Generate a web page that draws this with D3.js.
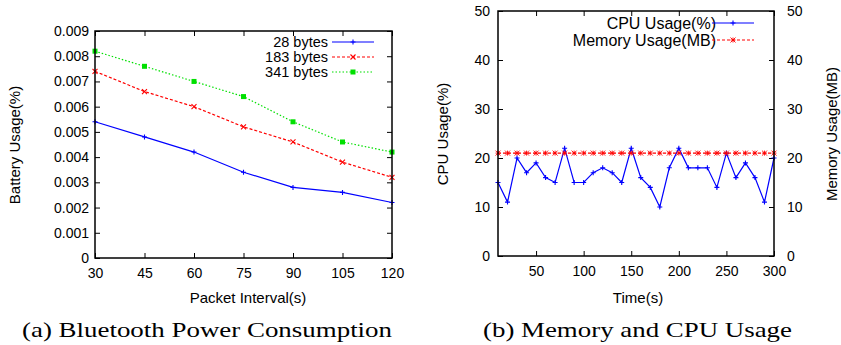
<!DOCTYPE html>
<html>
<head>
<meta charset="utf-8">
<script src="https://cdn.jsdelivr.net/npm/d3@7"></script>
<style>
  body { margin: 0; background: #fff; }
  svg text { font-family: "Liberation Sans", Arial, sans-serif; fill: #000; }
  .caption { font-family: "Liberation Serif", "DejaVu Serif", serif; }
</style>
</head>
<body>
<div id="chart"></div>
<script>
// ---- data ----
const intervals = [30, 45, 60, 75, 90, 105, 120];
const bytes28 = [0.0054, 0.0048, 0.0042, 0.0034, 0.0028, 0.0026, 0.0022];
const bytes183 = [0.0074, 0.0066, 0.0060, 0.0052, 0.0046, 0.0038, 0.0032];
const bytes341 = [0.0082, 0.0076, 0.0070, 0.0064, 0.0054, 0.0046, 0.0042];
const batteryTicks = [0, 0.001, 0.002, 0.003, 0.004, 0.005, 0.006, 0.007, 0.008, 0.009];

const times = [10, 20, 30, 40, 50, 60, 70, 80, 90, 100, 110, 120, 130, 140, 150,
               160, 170, 180, 190, 200, 210, 220, 230, 240, 250, 260, 270, 280, 290, 300];
const cpu = [15, 11, 20, 17, 19, 16, 15, 22, 15, 15, 17, 18, 17, 15, 22,
             16, 14, 10, 18, 22, 18, 18, 18, 14, 21, 16, 19, 16, 11, 20];
const memory = [21, 21, 21, 21, 21, 21, 21, 21, 21, 21, 21, 21, 21, 21, 21,
                21, 21, 21, 21, 21, 21, 21, 21, 21, 21, 21, 21, 21, 21, 21];
const timeTicks = [50, 100, 150, 200, 250, 300];
const usageTicks = [0, 10, 20, 30, 40, 50];

const width = 841, height = 345;
const blue = "#0000ff", red = "#ff0000", green = "#00e000";

const svg = d3.select("#chart").append("svg")
    .attr("width", width)
    .attr("height", height);

// marker shapes, gnuplot style
function drawMarker(g, kind, x, y, color) {
  const s = 2.5;
  if (kind === "plus") {
    g.append("path").attr("d", `M${x - s},${y}H${x + s}M${x},${y - s}V${y + s}`)
      .attr("stroke", color).attr("stroke-width", 1.1);
  } else if (kind === "cross") {
    g.append("path").attr("d", `M${x - s},${y - s}L${x + s},${y + s}M${x - s},${y + s}L${x + s},${y - s}`)
      .attr("stroke", color).attr("stroke-width", 1.1);
  } else if (kind === "star") {
    g.append("path").attr("d", `M${x - s},${y}H${x + s}M${x},${y - s}V${y + s}M${x - s},${y - s}L${x + s},${y + s}M${x - s},${y + s}L${x + s},${y - s}`)
      .attr("stroke", color).attr("stroke-width", 0.9);
  } else if (kind === "square") {
    g.append("rect").attr("x", x - 2.5).attr("y", y - 2.5).attr("width", 5).attr("height", 5)
      .attr("fill", color);
  }
}

function frame(g, x, y) {
  const [x0, x1] = x.range(), [y0, y1] = y.range();
  g.append("rect")
    .attr("x", x0).attr("y", y1)
    .attr("width", x1 - x0).attr("height", y0 - y1)
    .attr("fill", "none").attr("stroke", "#000").attr("stroke-width", 1.5);
}

// ---------- (a) Bluetooth Power Consumption ----------
const xA = d3.scaleLinear().domain([30, 120]).range([95, 392]);
const yA = d3.scaleLinear().domain([0, 0.009]).range([258, 31]);
const gA = svg.append("g");

gA.append("g").attr("transform", "translate(0,258)")
  .call(d3.axisBottom(xA).tickValues(intervals).tickSizeInner(-5).tickSizeOuter(0).tickPadding(10))
  .call(a => a.select(".domain").remove());
gA.append("g").attr("transform", "translate(0,31)")
  .call(d3.axisTop(xA).tickValues(intervals).tickSizeInner(-5).tickSizeOuter(0).tickFormat(""))
  .call(a => a.select(".domain").remove());
gA.append("g").attr("transform", "translate(95,0)")
  .call(d3.axisLeft(yA).tickValues(batteryTicks).tickSizeInner(-5).tickSizeOuter(0).tickPadding(6)
        .tickFormat(d => d === 0 ? "0" : d3.format(".3f")(d)))
  .call(a => a.select(".domain").remove());
gA.append("g").attr("transform", "translate(392,0)")
  .call(d3.axisRight(yA).tickValues(batteryTicks).tickSizeInner(-5).tickSizeOuter(0).tickFormat(""))
  .call(a => a.select(".domain").remove());

const seriesA = [
  { name: "28 bytes", values: bytes28, color: blue, dash: null, marker: "plus" },
  { name: "183 bytes", values: bytes183, color: red, dash: "3,2", marker: "cross" },
  { name: "341 bytes", values: bytes341, color: green, dash: "1.5,2", marker: "square" }
];

const lineA = d3.line().x((d, i) => xA(intervals[i])).y(d => yA(d));
seriesA.forEach((s, k) => {
  gA.append("path").datum(s.values)
    .attr("d", lineA).attr("fill", "none")
    .attr("stroke", s.color).attr("stroke-width", 1.2)
    .attr("stroke-dasharray", s.dash);
  s.values.forEach((v, i) => drawMarker(gA, s.marker, xA(intervals[i]), yA(v), s.color));
  // legend
  const ly = 42 + k * 15;
  gA.append("text").attr("x", 328).attr("y", ly + 5).attr("text-anchor", "end")
    .attr("font-size", 14.5).text(s.name);
  gA.append("line").attr("x1", 332).attr("x2", 374).attr("y1", ly).attr("y2", ly)
    .attr("stroke", s.color).attr("stroke-width", 1.2).attr("stroke-dasharray", s.dash);
  drawMarker(gA, s.marker, 353, ly, s.color);
});
frame(gA, xA, yA);

gA.selectAll(".tick text").attr("font-size", 14).attr("font-family", "Liberation Sans");
gA.append("text").attr("x", 248).attr("y", 303).attr("text-anchor", "middle")
  .attr("font-size", 15).text("Packet Interval(s)");
gA.append("text").attr("transform", "translate(20,145) rotate(-90)").attr("text-anchor", "middle")
  .attr("font-size", 15).text("Battery Usage(%)");

// ---------- (b) Memory and CPU Usage ----------
const xB = d3.scaleLinear().domain([10, 300]).range([498, 774]);
const yB = d3.scaleLinear().domain([0, 50]).range([256, 11]);
const y2B = d3.scaleLinear().domain([0, 50]).range([256, 11]);
const gB = svg.append("g");

gB.append("g").attr("transform", "translate(0,256)")
  .call(d3.axisBottom(xB).tickValues(timeTicks).tickSizeInner(-5).tickSizeOuter(0).tickPadding(10))
  .call(a => a.select(".domain").remove());
gB.append("g").attr("transform", "translate(0,11)")
  .call(d3.axisTop(xB).tickValues(timeTicks).tickSizeInner(-5).tickSizeOuter(0).tickFormat(""))
  .call(a => a.select(".domain").remove());
gB.append("g").attr("transform", "translate(498,0)")
  .call(d3.axisLeft(yB).tickValues(usageTicks).tickSizeInner(-5).tickSizeOuter(0).tickPadding(8))
  .call(a => a.select(".domain").remove());
gB.append("g").attr("transform", "translate(774,0)")
  .call(d3.axisRight(y2B).tickValues(usageTicks).tickSizeInner(-5).tickSizeOuter(0).tickPadding(13))
  .call(a => a.select(".domain").remove());

const seriesB = [
  { name: "CPU Usage(%)", values: cpu, color: blue, dash: null, marker: "plus", y: yB },
  { name: "Memory Usage(MB)", values: memory, color: red, dash: "3,2", marker: "star", y: y2B }
];
seriesB.forEach((s, k) => {
  const line = d3.line().x((d, i) => xB(times[i])).y(d => s.y(d));
  gB.append("path").datum(s.values)
    .attr("d", line).attr("fill", "none")
    .attr("stroke", s.color).attr("stroke-width", 1.2)
    .attr("stroke-dasharray", s.dash);
  s.values.forEach((v, i) => drawMarker(gB, s.marker, xB(times[i]), s.y(v), s.color));
  const ly = 23 + k * 17;
  gB.append("text").attr("x", 716).attr("y", ly + 5.5).attr("text-anchor", "end")
    .attr("font-size", 16).text(s.name);
  gB.append("line").attr("x1", 712).attr("x2", 754).attr("y1", ly).attr("y2", ly)
    .attr("stroke", s.color).attr("stroke-width", 1.2).attr("stroke-dasharray", s.dash);
  drawMarker(gB, s.marker, 733, ly, s.color);
});
frame(gB, xB, yB);

gB.selectAll(".tick text").attr("font-size", 14).attr("font-family", "Liberation Sans");
gB.append("text").attr("x", 638).attr("y", 303).attr("text-anchor", "middle")
  .attr("font-size", 15).text("Time(s)");
gB.append("text").attr("transform", "translate(448,134) rotate(-90)").attr("text-anchor", "middle")
  .attr("font-size", 15).text("CPU Usage(%)");
gB.append("text").attr("transform", "translate(837,134) rotate(-90)").attr("text-anchor", "middle")
  .attr("font-size", 15).text("Memory Usage(MB)");

// captions
svg.append("text").attr("class", "caption").attr("x", 22).attr("y", 337)
  .attr("font-size", 21).attr("textLength", 370).attr("lengthAdjust", "spacingAndGlyphs")
  .text("(a) Bluetooth Power Consumption");
svg.append("text").attr("class", "caption").attr("x", 483).attr("y", 337)
  .attr("font-size", 21).attr("textLength", 309).attr("lengthAdjust", "spacingAndGlyphs")
  .text("(b) Memory and CPU Usage");
</script>
</body>
</html>
